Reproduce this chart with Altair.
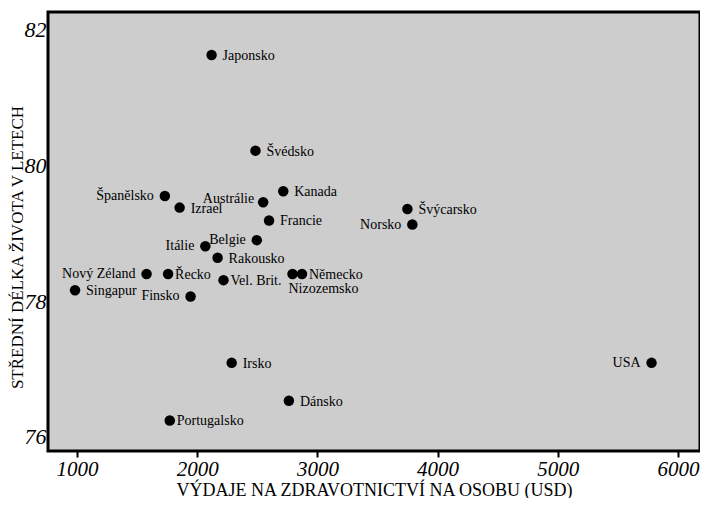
import altair as alt
import pandas as pd

countries = ["Japonsko", "Švédsko", "Kanada", "Austrálie", "Francie", "Španělsko",
             "Izrael", "Belgie", "Itálie", "Rakousko", "Nový Zéland", "Řecko",
             "Vel. Brit.", "Singapur", "Finsko", "Nizozemsko", "Německo",
             "Švýcarsko", "Norsko", "Irsko", "Dánsko", "Portugalsko", "USA"]
spending = [2120, 2485, 2716, 2549, 2598, 1731,
            1854, 2496, 2068, 2170, 1579, 1758,
            2219, 984, 1945, 2793, 2872,
            3749, 3790, 2287, 2763, 1772, 5780]
life_exp = [81.63, 80.22, 79.62, 79.46, 79.19, 79.55,
            79.38, 78.90, 78.81, 78.64, 78.40, 78.40,
            78.31, 78.16, 78.07, 78.40, 78.40,
            79.36, 79.13, 77.09, 76.53, 76.24, 77.09]

# label placement (style only)
label_side = {
    "Japonsko": "R", "Švédsko": "R", "Kanada": "R", "Austrálie": "LU",
    "Francie": "R", "Španělsko": "L", "Izrael": "R", "Belgie": "L",
    "Itálie": "L", "Rakousko": "R", "Nový Zéland": "L", "Řecko": "RC",
    "Vel. Brit.": "RC", "Singapur": "R", "Finsko": "L", "Nizozemsko": "B",
    "Německo": "RC", "Švýcarsko": "R", "Norsko": "L", "Irsko": "R",
    "Dánsko": "R", "Portugalsko": "RC", "USA": "L",
}

df = pd.DataFrame({"country": countries, "spend": spending, "life": life_exp})
df["side"] = df["country"].map(label_side)

FONT = "Liberation Serif"

x = alt.X("spend:Q", scale=alt.Scale(domain=[759, 6183], nice=False, zero=False),
          axis=alt.Axis(values=[1000, 2000, 3000, 4000, 5000, 6000], format="d",
                        title="VÝDAJE NA ZDRAVOTNICTVÍ NA OSOBU (USD)",
                        grid=False, domain=False, tickSize=6, tickWidth=2, tickColor="black",
                        labelFont=FONT, labelFontStyle="italic", labelFontSize=21,
                        labelColor="black", labelPadding=1,
                        titleFont=FONT, titleFontWeight="normal", titleFontSize=18,
                        titleColor="black", titleY=39, titleBaseline="middle"))
y = alt.Y("life:Q", scale=alt.Scale(domain=[75.79, 82.265], nice=False, zero=False),
          axis=alt.Axis(values=[76, 78, 80, 82], title="STŘEDNÍ DÉLKA ŽIVOTA V LETECH",
                        grid=False, domain=False, ticks=False,
                        labelFont=FONT, labelFontStyle="italic", labelFontSize=22,
                        labelColor="black", labelPadding=2,
                        titleFont=FONT, titleFontWeight="normal", titleFontSize=17,
                        titleColor="black", titleX=-31, titleY=235,
                        titleBaseline="middle", titleAlign="center"))

base = alt.Chart(df).encode(x=x, y=y)

points = base.mark_circle(size=110, color="black", opacity=1)

def labels(side, align, dx, dy):
    return base.transform_filter(alt.datum.side == side).mark_text(
        align=align, baseline="middle", dx=dx, dy=dy, font=FONT, fontSize=14, color="black"
    ).encode(text="country:N")

chart = alt.layer(
    points,
    labels("R", "left", 11, 1),
    labels("RC", "left", 7, 1),
    labels("L", "right", -11, 0),
    labels("LU", "right", -9, -3),
    labels("B", "left", -4, 15),
).properties(
    width=652, height=439,
    autosize=alt.AutoSizeParams(type="none"),
    padding={"left": 40, "top": 4, "right": 0, "bottom": 47},
    background="white",
).configure_view(fill="#cdcdcd", stroke="black", strokeWidth=3)

chart.save("out.html", embed_options={"renderer": "svg", "actions": False})
